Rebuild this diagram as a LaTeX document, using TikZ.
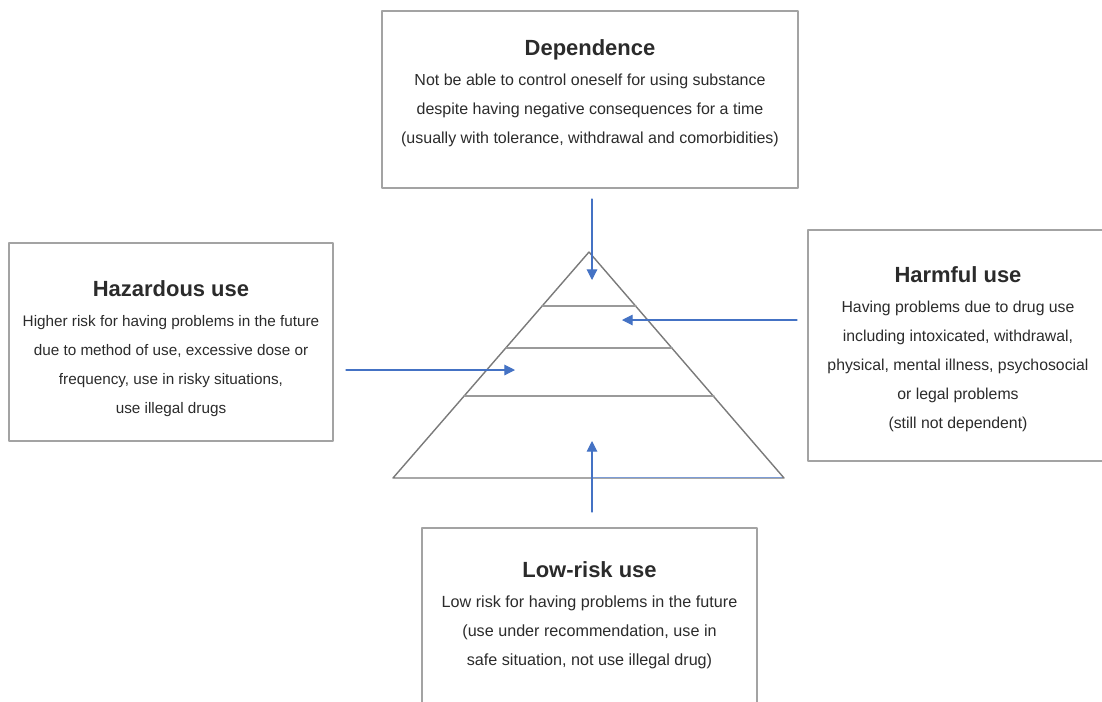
\documentclass[tikz,border=0pt]{standalone}
\usepackage{fontspec}
\setmainfont{Liberation Sans}
\usetikzlibrary{arrows.meta}
\definecolor{boxgray}{HTML}{A3A3A3}
\definecolor{pyrgray}{HTML}{7A7A7A}
\definecolor{layergray}{HTML}{9A9A9A}
\definecolor{arrowblue}{HTML}{4472C4}
\definecolor{textdark}{HTML}{2B2B2B}
\newcommand{\boxtitle}[1]{{\fontsize{12.5}{16.5}\selectfont\bfseries #1}}

\begin{document}
\begin{tikzpicture}[x=0.02cm, y=-0.02cm, line cap=round, line join=round,
  levelbox/.style={draw=boxgray, line width=.85pt, align=center, text=textdark,
    font=\fontsize{#1}{16.5}\selectfont, inner sep=0pt},
  levelbox/.default=8.7,
  feed/.style={draw=arrowblue, line width=.6pt, -{Triangle[length=6pt,width=6pt]}}]
  \useasboundingbox (0,0) rectangle (1102,701);

  \coordinate (apex)  at (589,252);
  \coordinate (baseL) at (393,478);
  \coordinate (baseR) at (784,478);
  \coordinate (L1) at (542,306);
  \coordinate (R1) at (636,306);
  \coordinate (L2) at (506,348);
  \coordinate (R2) at (672,348);
  \coordinate (L3) at (464,396);
  \coordinate (R3) at (714,396);
  \coordinate (cross) at (592,477);
  \coordinate (crossR) at (782,477);

  \draw[draw=pyrgray, line width=.8pt] (apex)--(baseL)--(baseR)--cycle;
  \draw[draw=layergray, line width=.65pt] (L1)--(R1) (L2)--(R2) (L3)--(R3);
  \draw[draw=arrowblue!70, line width=.5pt] (cross)--(crossR);

  \node[levelbox=9.1, minimum width=8.32cm, minimum height=3.54cm, text depth=9pt] (dependence) at (590,99.5)
    {\boxtitle{Dependence}\\[.6pt]
     Not be able to control oneself for using substance\\
     despite having negative consequences for a time\\
     (usually with tolerance, withdrawal and comorbidities)};
  \node[levelbox=8.7, minimum width=6.48cm, minimum height=3.96cm, text height=83.5pt] (hazardous) at (171,342)
    {\boxtitle{Hazardous use}\\[.6pt]
     Higher risk for having problems in the future\\
     due to method of use, excessive dose or\\
     frequency, use in risky situations,\\
     use illegal drugs};
  \node[levelbox=9, minimum width=6cm, minimum height=4.62cm, text height=96.7pt] (harmful) at (958,345.5)
    {\boxtitle{Harmful use}\\[.6pt]
     Having problems due to drug use\\
     including intoxicated, withdrawal,\\
     physical, mental illness, psychosocial\\
     or legal problems\\
     (still not dependent)};
  \node[levelbox=9.2, minimum width=6.7cm, minimum height=3.84cm, text depth=12pt] (lowrisk) at (589.5,624)
    {\boxtitle{Low-risk use}\\[.6pt]
     Low risk for having problems in the future\\
     (use under recommendation, use in\\
     safe situation, not use illegal drug)};

  \coordinate (topA)   at (592,199);
  \coordinate (topB)   at (592,280);
  \coordinate (rightA) at (797,320);
  \coordinate (rightB) at (622,320);
  \coordinate (leftA)  at (346,370);
  \coordinate (leftB)  at (515,370);
  \coordinate (lowA)   at (592,512);
  \coordinate (lowB)   at (592,441);

  \draw[feed] (topA)--(topB);
  \draw[feed] (rightA)--(rightB);
  \draw[feed] (leftA)--(leftB);
  \draw[feed] (lowA)--(lowB);
\end{tikzpicture}
\end{document}
